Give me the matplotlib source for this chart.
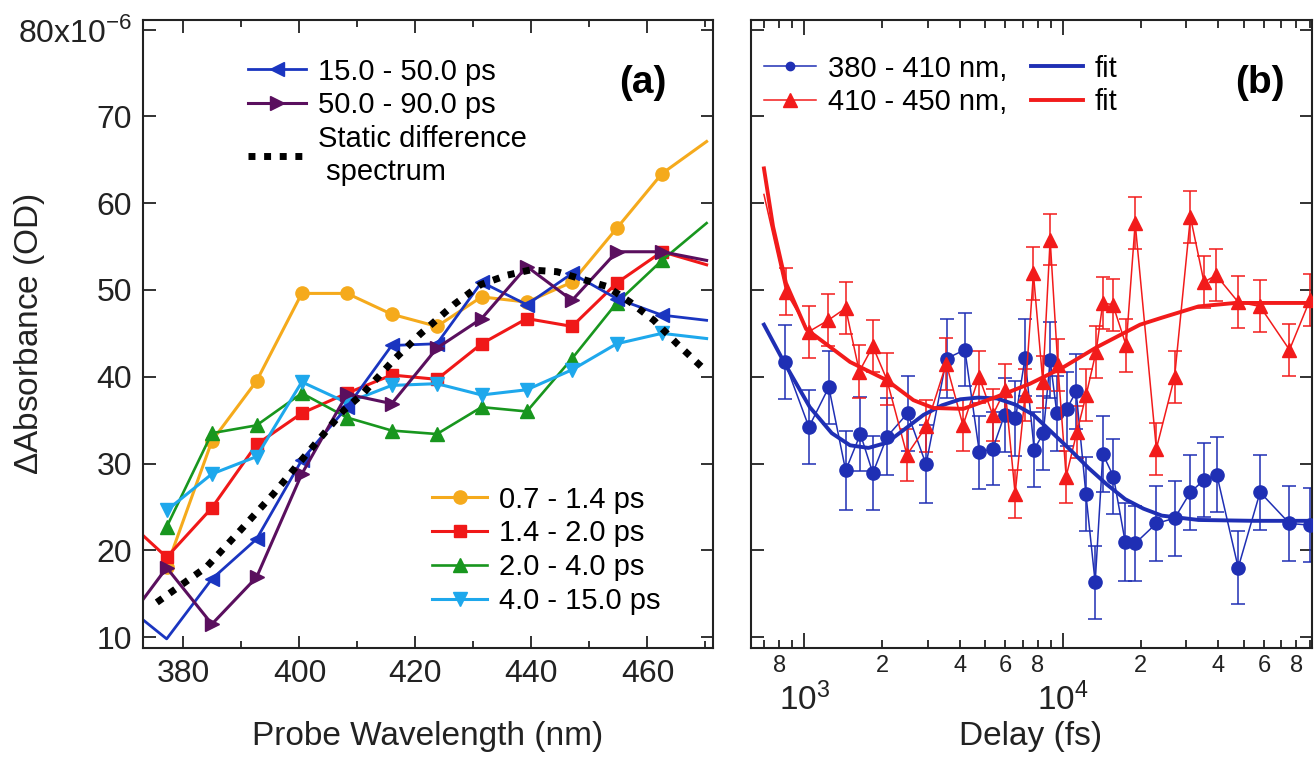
import matplotlib
matplotlib.use('Agg')
import matplotlib.pyplot as plt
import numpy as np
from matplotlib.lines import Line2D
from matplotlib.ticker import MultipleLocator, FuncFormatter, LogLocator

plt.rcParams['font.family'] = ['Liberation Sans', 'DejaVu Sans']
plt.rcParams['mathtext.fontset'] = 'custom'
plt.rcParams['mathtext.rm'] = 'Liberation Sans'

# ---- panel (a): transient spectra (units of 1e-6 OD) ----
wavelength = [369.3, 377.1, 384.9, 392.6, 400.4, 408.2, 415.9, 423.7,
              431.4, 439.2, 447.0, 454.7, 462.5, 470.2]
nan = float('nan')
spec_07_14 = [nan, 18.1, 32.6, 39.5, 49.6, 49.6, 47.2, 45.8, 49.2, 48.6, 50.9, 57.1, 63.4, 67.1]
spec_14_20 = [24.0, 19.2, 24.9, 32.2, 35.8, 38.1, 40.2, 39.7, 43.8, 46.7, 45.8, 50.8, 54.4, 52.9]
spec_20_40 = [nan, 22.7, 33.5, 34.4, 38.1, 35.3, 33.8, 33.4, 36.5, 36.0, 42.1, 48.5, 53.4, 57.7]
spec_40_150 = [nan, 24.6, 28.8, 30.8, 39.4, 37.0, 39.0, 39.2, 37.9, 38.5, 40.8, 43.8, 45.0, 44.4]
spec_150_500 = [14.0, 9.8, 16.7, 21.3, 30.4, 36.5, 43.6, 43.8, 50.9, 48.3, 51.9, 49.0, 47.1, 46.5]
spec_500_900 = [11.0, 18.0, 11.5, 16.9, 28.8, 38.0, 36.9, 43.3, 46.7, 52.7, 48.8, 54.4, 54.4, 53.4]

static_wl = [375.4, 384.0, 389.8, 395.5, 400.1, 407.6, 411.0, 416.2, 420.8, 426.6, 431.2,
             435.8, 439.8, 444.4, 448.4, 453.0, 457.0, 461.1, 465.1, 469.4]
static_spec = [14.0, 18.1, 22.3, 26.5, 30.2, 36.1, 38.1, 41.9, 44.9, 48.3, 50.6,
               51.7, 52.3, 52.1, 51.3, 50.4, 48.6, 46.5, 43.8, 41.1]

# ---- panel (b): kinetics ----
delay_blue = [841, 1042, 1244, 1445, 1648, 1841, 2090, 2510, 2958, 3550, 4180, 4755, 5357,
              5950, 6560, 7146, 7745, 8406, 8932, 9482, 10360, 11260, 12280, 13340, 14280,
              15700, 17420, 19050, 23000, 27070, 31160, 35160, 39430, 47690, 57940, 75300, 90200]
kin_blue = [41.7, 34.2, 38.8, 29.2, 33.4, 28.9, 33.1, 35.8, 29.9, 42.1, 43.1, 31.3, 31.7,
            35.6, 35.2, 42.2, 31.6, 33.5, 41.9, 35.8, 36.3, 38.3, 26.5, 16.3, 31.1,
            28.5, 21.0, 20.8, 23.1, 23.7, 26.7, 28.1, 28.7, 18.0, 26.7, 23.1, 22.9]
err_blue = [4.3, 4.3, 4.2, 4.5, 4.3, 4.3, 4.4, 4.3, 4.5, 4.6, 4.2, 4.2, 4.2,
            4.3, 4.3, 4.4, 4.3, 4.3, 4.4, 4.3, 4.3, 4.3, 4.3, 4.2, 4.4,
            4.3, 4.5, 4.3, 4.3, 4.3, 4.3, 4.3, 4.3, 4.2, 4.3, 4.3, 4.3]

delay_red = [698, 849, 1042, 1236, 1445, 1632, 1841, 2084, 2495, 2966, 3541, 4111, 4740,
             5357, 5985, 6539, 7146, 7695, 8367, 8932, 9565, 10300, 11330, 12310, 13450,
             14280, 15620, 17580, 19050, 23000, 27070, 31160, 35160, 39170, 47690, 57940,
             75300, 90200]
kin_red = [61.0, 49.8, 45.2, 46.5, 47.9, 40.6, 43.5, 39.7, 31.0, 34.3, 41.5, 34.4, 40.0,
           35.6, 38.5, 26.5, 37.9, 51.9, 39.4, 55.8, 41.3, 28.5, 33.6, 37.9, 42.9,
           48.5, 48.3, 43.6, 57.7, 31.7, 40.0, 58.4, 50.9, 51.7, 48.6, 48.1, 43.1, 48.8]
err_red = [2.8, 2.7, 3.0, 3.0, 3.0, 3.0, 3.0, 3.0, 3.0, 3.0, 3.0, 3.0, 3.0,
           3.0, 3.0, 2.8, 3.0, 3.1, 3.0, 2.9, 3.0, 3.0, 3.0, 3.0, 3.0,
           3.0, 3.0, 3.0, 3.0, 3.0, 3.0, 3.0, 3.0, 3.0, 3.0, 3.0, 3.0, 3.0]

fit_t_blue = [698, 841, 1050, 1277, 1503, 1770, 2085, 2455, 2890, 3405, 4010, 4720, 5560,
              6535, 7700, 9065, 10670, 12560, 14790, 17420, 20510, 24150, 33500, 54700, 92000]
fit_blue = [46.0, 41.5, 36.5, 33.5, 32.1, 31.8, 32.4, 34.0, 35.6, 36.7, 37.4, 37.6, 37.5,
            36.8, 35.6, 33.6, 31.6, 29.5, 27.6, 25.9, 24.8, 24.0, 23.5, 23.4, 23.4]
fit_t_red = [698, 757, 849, 1016, 1236, 1503, 2085, 2643, 3156, 4120, 5560, 7470, 10050,
             13520, 19900, 24150, 33500, 46400, 92000]
fit_red = [64.0, 57.3, 50.8, 45.5, 43.6, 41.7, 39.6, 37.3, 36.4, 36.3, 37.7, 39.2, 41.1,
           43.4, 46.0, 46.8, 48.1, 48.5, 48.5]

# ---- styling ----
c_yellow, c_red, c_green, c_cyan = '#f5aa1c', '#f01818', '#18961e', '#1ea8ec'
c_blue, c_purple = '#1a35c0', '#5a0f5e'
kb_blue, kb_red = '#1f2fb4', '#f21b1b'
spine_c = '#222222'

fig = plt.figure(figsize=(13.15, 7.57), dpi=100)
axa = fig.add_axes([0.1091, 0.1440, 0.4331, 0.8296])
axb = fig.add_axes([0.5711, 0.1440, 0.4266, 0.8296])

dotted = (0, (1.0, 1.25))
# markers: skip the off-axis first point and the last point (drawn as line only)
series = [
    ('0.7 - 1.4 ps', spec_07_14, c_yellow, 'o', 9.5, 2.2, 1),
    ('1.4 - 2.0 ps', spec_14_20, c_red, 's', 9.0, 2.2, 1),
    ('2.0 - 4.0 ps', spec_20_40, c_green, '^', 10.5, 1.9, 1),
    ('4.0 - 15.0 ps', spec_40_150, c_cyan, 'v', 10.5, 2.2, 1),
    ('15.0 - 50.0 ps', spec_150_500, c_blue, '<', 10.5, 2.0, 2),
    ('50.0 - 90.0 ps', spec_500_900, c_purple, '>', 10.5, 2.2, 1),
]
handles = {}
for label, vals, col, mk, ms, lw, first in series:
    axa.plot(wavelength, vals, color=col, lw=lw, marker=mk, ms=ms, mec=col, mfc=col,
             markevery=slice(first, len(wavelength) - 1))
    handles[label] = Line2D([], [], color=col, lw=lw, marker=mk, ms=ms, mec=col, mfc=col)

axa.plot(static_wl, static_spec, color='black', lw=5, ls=dotted, dash_capstyle='butt', zorder=5)
h_static = Line2D([], [], color='black', lw=5, ls=dotted, dash_capstyle='butt')

axa.set_xlim(373.1, 471.3)
axa.set_ylim(8.75, 81.1)
axa.xaxis.set_major_locator(MultipleLocator(20))
axa.xaxis.set_minor_locator(MultipleLocator(10))
axa.set_yticks(np.arange(10, 81, 10))
axa.yaxis.set_major_formatter(FuncFormatter(
    lambda v, p: r'80x10$^{\mathregular{-6}}$' if round(v) == 80 else '%d' % round(v)))

leg1 = axa.legend([handles['15.0 - 50.0 ps'], handles['50.0 - 90.0 ps'], h_static],
                  ['15.0 - 50.0 ps', '50.0 - 90.0 ps', 'Static difference\n spectrum'],
                  loc='upper left', bbox_to_anchor=(0.1835, 0.94), frameon=False,
                  fontsize=21, numpoints=1, handlelength=2.0, handletextpad=0.4,
                  labelspacing=0.2, borderpad=0, borderaxespad=0)
axa.add_artist(leg1)
axa.legend([handles[s[0]] for s in series[:4]], [s[0] for s in series[:4]],
           loc='lower left', bbox_to_anchor=(0.5066, 0.0525), frameon=False,
           fontsize=21, numpoints=1, handlelength=1.9, handletextpad=0.4,
           labelspacing=0.2, borderpad=0, borderaxespad=0)
axa.text(0.877, 0.9, '(a)', transform=axa.transAxes, fontsize=28, fontweight='bold',
         ha='center', va='center')

# panel (b)
axb.errorbar(delay_blue, kin_blue, yerr=err_blue, fmt='none', ecolor=kb_blue,
             elinewidth=1.1, capsize=5, capthick=1.1, zorder=2)
axb.plot(delay_blue, kin_blue, color=kb_blue, lw=1.1, marker='o', ms=9.5, zorder=3)
axb.errorbar(delay_red[1:], kin_red[1:], yerr=err_red[1:], fmt='none', ecolor=kb_red,
             elinewidth=1.1, capsize=5, capthick=1.1, zorder=2)
axb.plot(delay_red, kin_red, color=kb_red, lw=1.1, marker='^', ms=10.5,
         markevery=slice(1, None), zorder=3)
axb.plot(fit_t_blue, fit_blue, color=kb_blue, lw=2.8, zorder=4)
axb.plot(fit_t_red, fit_red, color=kb_red, lw=2.8, zorder=4)

axb.set_xscale('log')
axb.set_xlim(622, 92000)
axb.set_ylim(8.75, 81.1)
axb.set_yticks(np.arange(10, 81, 10))
axb.xaxis.set_major_locator(LogLocator(base=10, numticks=10))
axb.xaxis.set_minor_locator(LogLocator(base=10, subs=np.arange(2, 10), numticks=20))
axb.xaxis.set_major_formatter(FuncFormatter(
    lambda x, p: r'$\mathregular{10^{%d}}$' % round(np.log10(x))))


def minor_label(x, pos):
    d = int(round(x / 10 ** np.floor(np.log10(x) + 1e-9)))
    return str(d) if d in (2, 4, 6, 8) else ''


axb.xaxis.set_minor_formatter(FuncFormatter(minor_label))
axb.tick_params(axis='y', labelleft=False)

hb = [Line2D([], [], color=kb_blue, lw=1.1, marker='o', ms=6),
      Line2D([], [], color=kb_red, lw=1.1, marker='^', ms=10.5),
      Line2D([], [], color=kb_blue, lw=2.8),
      Line2D([], [], color=kb_red, lw=2.8)]
axb.legend(hb, ['380 - 410 nm,', '410 - 450 nm,', 'fit', 'fit'], ncol=2,
           loc='upper left', bbox_to_anchor=(0.023, 0.945), frameon=False,
           fontsize=21, numpoints=1, handlelength=1.8, handletextpad=0.4,
           labelspacing=0.2, columnspacing=0.8, borderpad=0, borderaxespad=0)
axb.text(0.907, 0.9, '(b)', transform=axb.transAxes, fontsize=28, fontweight='bold',
         ha='center', va='center')

for ax in (axa, axb):
    for sp in ax.spines.values():
        sp.set_color(spine_c)
        sp.set_linewidth(1.5)
    ax.tick_params(which='both', direction='in', top=True, right=True,
                   color=spine_c, width=1.3, labelcolor='#222222')
    ax.tick_params(which='major', length=9)
    ax.tick_params(which='minor', length=5)

axa.tick_params(axis='both', which='major', labelsize=23, pad=8)
axb.tick_params(axis='x', which='major', labelsize=24, pad=25, length=11)
axb.tick_params(axis='x', which='minor', labelsize=17, pad=5, length=6)

fig.text(30 / 1315, 1 - 334 / 757, r'$\Delta$Absorbance (OD)', rotation=90,
         fontsize=24, ha='center', va='center', color='#222222')
fig.text(428 / 1315, 1 - 737 / 757, 'Probe Wavelength (nm)', fontsize=24,
         ha='center', va='center', color='#222222')
fig.text(1031 / 1315, 1 - 737 / 757, 'Delay (fs)', fontsize=24,
         ha='center', va='center', color='#222222')

fig.savefig('out.png', dpi=100)
